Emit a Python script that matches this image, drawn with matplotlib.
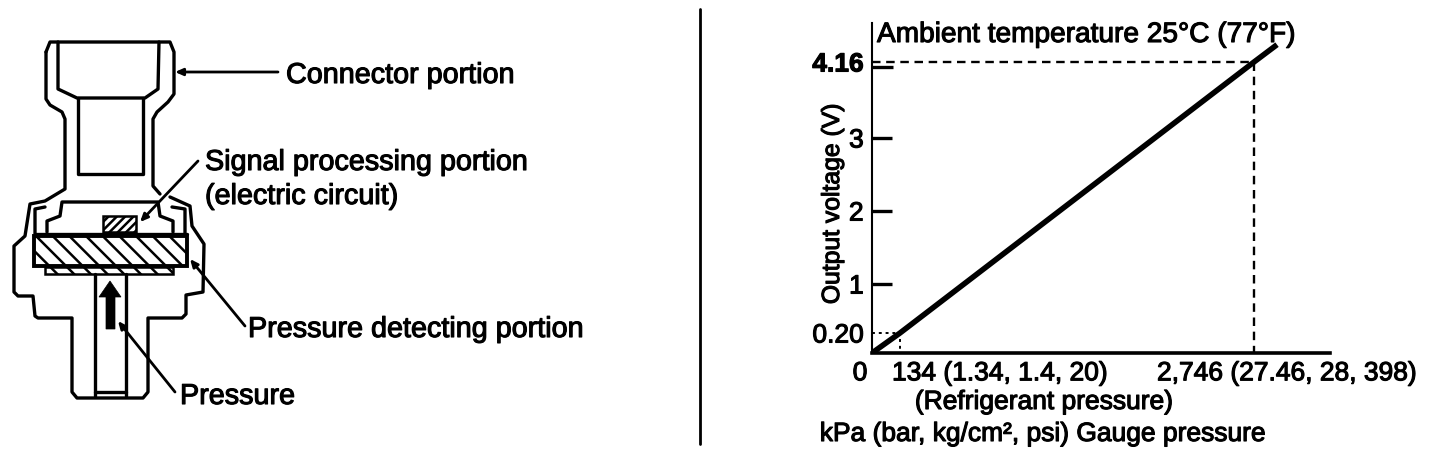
import numpy as np
import matplotlib
matplotlib.use("Agg")
import matplotlib.pyplot as plt
import matplotlib.patheffects as pe
from matplotlib.patches import Rectangle, Polygon
from matplotlib.transforms import ScaledTranslation

W, H = 1440, 456
plt.rcParams['font.family'] = ['Liberation Sans', 'DejaVu Sans']
plt.rcParams['hatch.linewidth'] = 1.8

# ---------- chart data ----------
pressure_kpa = [0, 134, 2746, 2916]
output_volts = [0, 0.20, 4.16, 4.40]
y_ticks = [0.20, 1, 2, 3, 4.16]
y_tick_labels = ['0.20', '1', '2', '3', '4.16']
x_ticks = [0, 134, 2746]
x_tick_labels = ['0', '134 (1.34, 1.4, 20)', '2,746 (27.46, 28, 398)']
low_p, low_v = 134, 0.20
high_p, high_v = 2746, 4.16

# scale knots: the original graph is schematic, not strictly linear
x_knots_val = [0, 134, 2746, 3307]
x_knots_px = [872, 900, 1254, 1330]
y_knots_val = [0, 0.20, 1, 2, 3, 4.16, 4.70]
y_knots_px = [354, 334, 285, 212, 139, 63, 24]

# ---------- illustration outlines (pixel coordinates of the drawing) ----------
connector_right = [(46,53),(50,43),(170,43),(174,53),(174,95),(168,103),(157,113),(153,120),(153,187),(160,195)]
connector_left = [(46,53),(46,100),(50,106),(62,113),(65,120),(65,190),(45,202),(30,205),(25,237),(14,247),
                  (14,293),(18,297),(33,297),(35,317),(38,319),(72,319),(72,393),(77,399),(143,399),(148,393),
                  (148,319),(182,319),(186,315),(186,296),(203,293),(204,245),(192,227),(190,207),(170,198)]
cup = [(58,43),(58,90),(77,99),(145,99),(158,90),(159,43)]
inner_rect = [(78,99),(78,175),(143,175),(143,99)]
cavity = [(47,233),(47,222),(60,217),(62,203),(158,203),(160,217),(173,222),(173,233)]
seal_left = [(45,208),(35,210),(35,235)]
seal_right = [(172,208),(185,210),(185,235)]
tube_left = [(95,275),(95,397)]
tube_right = [(126,275),(126,397)]
tube_end = [(95,393),(126,393)]
top_line = [(35,235),(187,235)]
lift_arrow = [(110,282),(121,298),(115,298),(115,330),(106,330),(106,298),(99,298)]
leaders = [((278,73),(175,73)), ((198,162),(140,223)), ((245,327),(190,260)), ((175,393),(118,322))]
divider = [(700,10),(700,445)]

fig = plt.figure(figsize=(W/100, H/100), dpi=100, facecolor='white')
bg = fig.add_axes([0, 0, 1, 1])
bg.set_xlim(0, W); bg.set_ylim(H, 0); bg.axis('off')

def path(pts, lw=2.2):
    xs, ys = zip(*pts)
    bg.plot(xs, ys, color='black', lw=lw, solid_joinstyle='round', solid_capstyle='round')

for p in (connector_right, connector_left, cup, inner_rect, cavity, seal_left, seal_right,
          tube_left, tube_right, tube_end, top_line):
    path(p, 2.4)
bg.add_patch(Rectangle((103,217), 33, 16, fc='white', ec='black', lw=1.8, hatch='////'))
bg.add_patch(Rectangle((34,237), 153, 30, fc='white', ec='black', lw=2.8, hatch='\\\\'))
bg.add_patch(Rectangle((45,268), 128, 7, fc='white', ec='black', lw=1.8, hatch='\\\\'))
bg.add_patch(Polygon(lift_arrow, closed=True, fc='black', ec='black', lw=0.5, zorder=4))
path(divider, 2.0)
for start, end in leaders:
    bg.annotate('', xy=end, xytext=start, zorder=5,
                arrowprops=dict(arrowstyle='-|>,head_length=0.45,head_width=0.2', color='black',
                                lw=2.0, shrinkA=0, shrinkB=0))

FS_LEFT = 20.7
FS_LOW = 19.0
heavy = [pe.withStroke(linewidth=0.8, foreground='black')]
def label(x, y, s, fs, **kw):
    t = bg.text(x, y, s, va='center', ha=kw.pop('ha', 'left'), color='black', fontsize=fs, **kw)
    t.set_path_effects(heavy)
    return t

label(286, 76, 'Connector portion', FS_LEFT)
label(205, 163, 'Signal processing portion', FS_LEFT)
label(205, 197, '(electric circuit)', FS_LEFT)
label(248, 330, 'Pressure detecting portion', FS_LEFT)
label(180, 397, 'Pressure', FS_LEFT)
label(877, 36, 'Ambient temperature 25°C (77°F)', 20.2)
label(832, 205, 'Output voltage (V)', 17.8, rotation=90, ha='center')
label(1044, 403, '(Refrigerant pressure)', FS_LOW, ha='center')
label(1043, 435, 'kPa (bar, kg/cm², psi) Gauge pressure', FS_LOW, ha='center')

# ---------- chart ----------
ax = fig.add_axes([872/W, 1-354/H, (1330-872)/W, (354-24)/H])
ax.patch.set_alpha(0)
ax.set_xscale('function', functions=(lambda v: np.interp(v, x_knots_val, x_knots_px),
                                     lambda p: np.interp(p, x_knots_px, x_knots_val)))
neg_px = [-p for p in y_knots_px]
ax.set_yscale('function', functions=(lambda v: np.interp(v, y_knots_val, neg_px),
                                     lambda p: np.interp(p, neg_px, y_knots_val)))
ax.set_xlim(x_knots_val[0], x_knots_val[-1])
ax.set_ylim(y_knots_val[0], y_knots_val[-1])
for s in ('top', 'right'):
    ax.spines[s].set_visible(False)
ax.spines['left'].set_linewidth(1.5)
ax.spines['bottom'].set_linewidth(2.6)

ax.plot(pressure_kpa, output_volts, color='black', lw=4.0, solid_capstyle='butt')
ax.plot([0, high_p, high_p], [high_v, high_v, 0], color='black', lw=1.7, dashes=(3.6, 2.4))
ax.plot([0, low_p, low_p], [low_v, low_v, 0], color='black', lw=1.4, dashes=(1.5, 2))
ax.plot([0, 100], [4.09, 4.09], color='black', lw=2.4, solid_capstyle='butt')

ax.set_yticks(y_ticks)
ax.set_yticklabels(y_tick_labels, fontsize=19)
ax.tick_params(axis='y', direction='in', length=14.5, width=2.4, pad=6)
ticks = ax.yaxis.get_major_ticks()
ticks[0].tick1line.set_visible(False)
ticks[-1].tick1line.set_visible(False)
for t in ax.get_yticklabels():
    t.set_path_effects(heavy)
ax.get_yticklabels()[-1].set_fontweight('bold')

ax.set_xticks(x_ticks)
ax.set_xticklabels(x_tick_labels, fontsize=FS_LOW)
ax.tick_params(axis='x', length=0, pad=6)
offsets = [-12, -8, -97]
aligns = ['center', 'left', 'left']
for t, dx, ha in zip(ax.get_xticklabels(), offsets, aligns):
    t.set_ha(ha)
    t.set_transform(t.get_transform() + ScaledTranslation(dx/100, 0, fig.dpi_scale_trans))
    t.set_path_effects(heavy)

fig.savefig('out.png', dpi=100, facecolor='white')
